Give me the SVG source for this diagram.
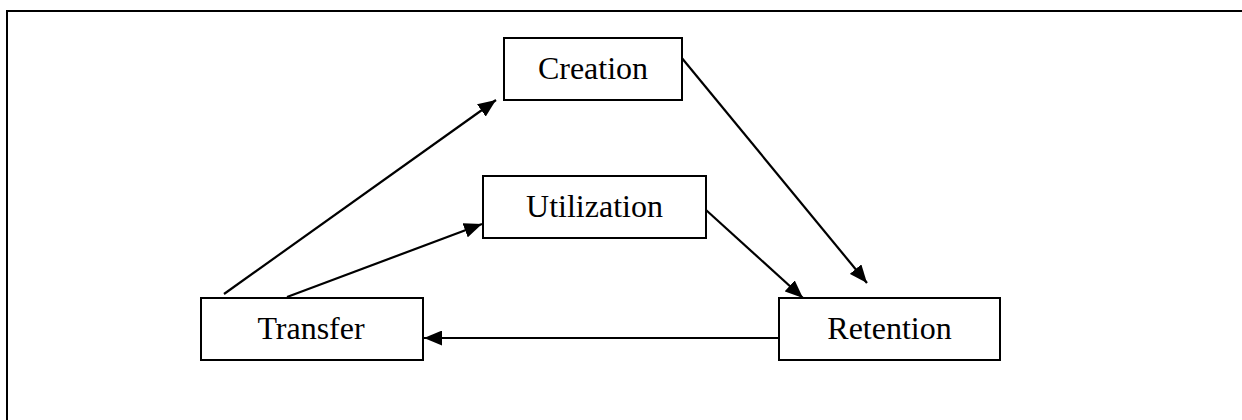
<svg xmlns="http://www.w3.org/2000/svg" width="1242" height="420" viewBox="0 0 1242 420">
  <style>
    .box { fill: #ffffff; stroke: #000000; stroke-width: 2; }
    .lbl { font-family: "Liberation Serif", "Times New Roman", serif; font-size: 32px; fill: #000000; text-anchor: middle; }
    .conn { stroke: #000000; stroke-width: 2.2; fill: none; marker-end: url(#arrow); }
    .frame { stroke: #000000; stroke-width: 2; fill: none; }
  </style>
  <defs>
    <marker id="arrow" markerUnits="userSpaceOnUse" markerWidth="19" markerHeight="15" refX="18" refY="7.5" orient="auto">
      <path d="M0,0 L18,7.5 L0,15 z" fill="#000000"/>
    </marker>
  </defs>
  <rect x="0" y="0" width="1242" height="420" fill="#ffffff"/>
  <path class="frame" d="M7,420 V11 H1242"/>
  <g id="connectors">
    <line class="conn" x1="224" y1="294" x2="496" y2="100"/>
    <line class="conn" x1="287" y1="297" x2="482" y2="224"/>
    <line class="conn" x1="706" y1="210" x2="803" y2="298"/>
    <line class="conn" x1="681" y1="57" x2="867" y2="283"/>
    <line class="conn" x1="779" y1="338" x2="424" y2="338"/>
  </g>
  <g id="node-creation">
    <rect class="box" x="504" y="38" width="178" height="62"/>
    <text class="lbl" x="593" y="79">Creation</text>
  </g>
  <g id="node-utilization">
    <rect class="box" x="483" y="176" width="223" height="62"/>
    <text class="lbl" x="594.5" y="217">Utilization</text>
  </g>
  <g id="node-transfer">
    <rect class="box" x="201" y="298" width="222" height="62"/>
    <text class="lbl" x="311" y="339">Transfer</text>
  </g>
  <g id="node-retention">
    <rect class="box" x="779" y="298" width="221" height="62"/>
    <text class="lbl" x="889.5" y="339">Retention</text>
  </g>
</svg>
